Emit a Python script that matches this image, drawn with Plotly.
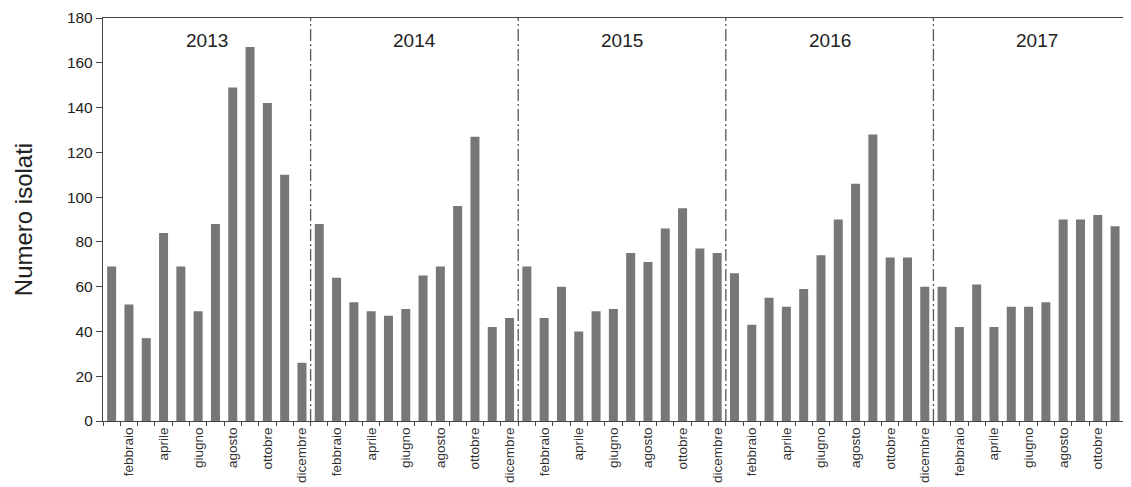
import plotly.graph_objects as go

years = ["2013", "2014", "2015", "2016", "2017"]
months = ["gennaio", "febbraio", "marzo", "aprile", "maggio", "giugno",
          "luglio", "agosto", "settembre", "ottobre", "novembre", "dicembre"]
labelled_months = ["febbraio", "aprile", "giugno", "agosto", "ottobre", "dicembre"]

v2013 = [69, 52, 37, 84, 69, 49, 88, 149, 167, 142, 110, 26]
v2014 = [88, 64, 53, 49, 47, 50, 65, 69, 96, 127, 42, 46]
v2015 = [69, 46, 60, 40, 49, 50, 75, 71, 86, 95, 77, 75]
v2016 = [66, 43, 55, 51, 59, 74, 90, 106, 128, 73, 73, 60]
v2017 = [60, 42, 61, 42, 51, 51, 53, 90, 90, 92, 87, 54]

values = v2013 + v2014 + v2015 + v2016 + v2017
n = len(values)
xs = list(range(n))

tickvals = [i for i in xs if months[i % 12] in labelled_months]
ticktext = [months[i % 12] for i in tickvals]

fig = go.Figure()
fig.add_trace(go.Bar(x=xs, y=values, marker=dict(color="#777777", line=dict(width=0)),
                     showlegend=False))

shapes = []
for k in range(1, len(years)):
    xb = k * 12 - 0.5
    shapes.append(dict(type="line", xref="x", yref="y", x0=xb, x1=xb, y0=0, y1=180,
                       line=dict(color="#555555", width=1.3, dash="12px,3px,2px,3px")))

annotations = []
for k, yr in enumerate(years):
    annotations.append(dict(x=k * 12 + 5.5, y=170, xref="x", yref="y", text=yr,
                            showarrow=False, font=dict(size=19, color="#222222")))

fig.update_layout(
    width=1123, height=479,
    margin=dict(l=95, r=0, t=10, b=66),
    paper_bgcolor="white", plot_bgcolor="white",
    font=dict(family="Liberation Sans, Arial, sans-serif", color="#222222"),
    bargap=0.48,
    shapes=shapes,
    annotations=annotations,
)
fig.update_xaxes(
    range=[-0.5, 58.92],
    tickmode="array", tickvals=tickvals, ticktext=ticktext,
    tickangle=-90, tickfont=dict(size=13.5, color="#333333"),
    ticks="", showgrid=False, zeroline=False,
    showline=True, linecolor="#444444", linewidth=1.3, mirror=True,
    minor=dict(tickvals=[i - 0.5 for i in range(n + 1)], ticks="outside",
               ticklen=4, tickcolor="#444444", showgrid=False),
)
fig.update_yaxes(
    range=[0, 180], tickmode="linear", tick0=0, dtick=20,
    ticks="outside", ticklen=6, tickcolor="#444444",
    tickfont=dict(size=15.5, color="#222222"),
    showgrid=False, zeroline=False,
    showline=True, linecolor="#444444", linewidth=1.3,
    title=dict(text="Numero isolati", font=dict(size=24, color="#222222"), standoff=27),
)

fig.write_html("out.html")
